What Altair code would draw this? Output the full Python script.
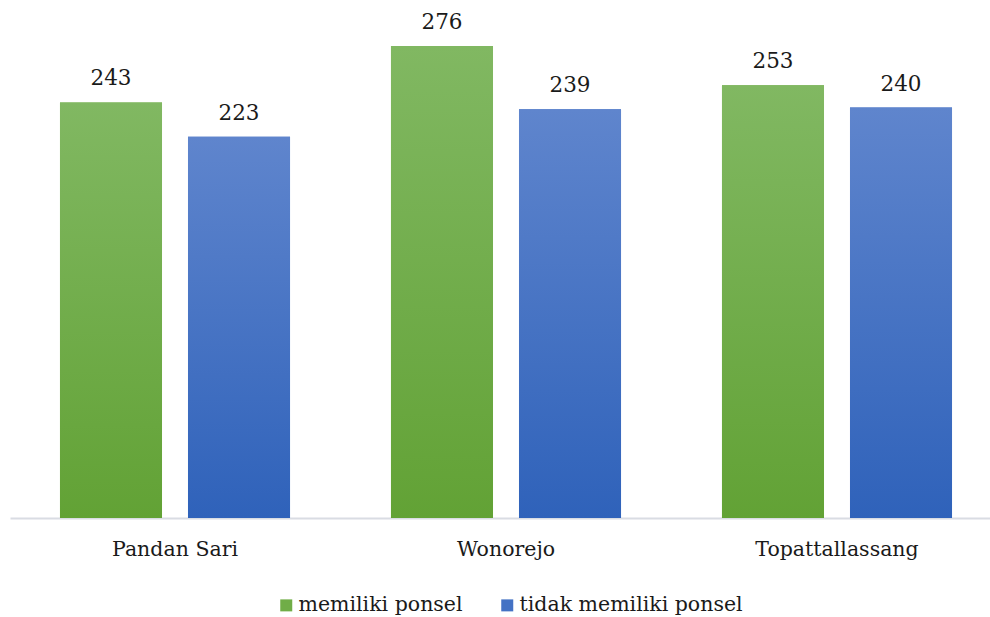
import altair as alt
import pandas as pd

# Survey counts per village
villages = ["Pandan Sari", "Wonorejo", "Topattallassang"]
series = ["memiliki ponsel", "tidak memiliki ponsel"]
owns_phone = [243, 276, 253]
no_phone = [223, 239, 240]

rows = []
for i, v in enumerate(villages):
    rows.append({"desa": v, "status": series[0], "jumlah": owns_phone[i]})
    rows.append({"desa": v, "status": series[1], "jumlah": no_phone[i]})
df = pd.DataFrame(rows)

FONT = "DejaVu Serif"
solid = ["#70ad47", "#4472c4"]

green_grad = alt.Gradient(
    gradient="linear", x1=0, y1=0, x2=0, y2=1,
    stops=[alt.GradientStop(color="#81b862", offset=0),
           alt.GradientStop(color="#62a235", offset=1)],
)
blue_grad = alt.Gradient(
    gradient="linear", x1=0, y1=0, x2=0, y2=1,
    stops=[alt.GradientStop(color="#5f85cd", offset=0),
           alt.GradientStop(color="#2f62ba", offset=1)],
)

x_enc = alt.X(
    "desa:N", sort=villages, title=None,
    scale=alt.Scale(range=[0, 992], paddingInner=0.305, paddingOuter=0.151),
    axis=alt.Axis(labelAngle=0, ticks=False, labelPadding=21, labelFont=FONT,
                  labelFontSize=20.5, labelColor="#1a1a1a", domainColor="#d9dce3",
                  domainWidth=2, grid=False),
)
xo_enc = alt.XOffset("status:N", sort=series,
                     scale=alt.Scale(paddingInner=0.203, paddingOuter=0))
y_enc = alt.Y("jumlah:Q", scale=alt.Scale(domain=[0, 300]), axis=None)

base = alt.Chart(df).encode(x=x_enc, xOffset=xo_enc, y=y_enc)

legend_bars = base.mark_bar().encode(
    color=alt.Color(
        "status:N", sort=series,
        scale=alt.Scale(domain=series, range=solid),
        legend=alt.Legend(
            title=None, orient="none", direction="horizontal",
            legendX=266, legendY=590, symbolType="square", symbolSize=144,
            symbolStrokeWidth=0, labelFont=FONT, labelFontSize=20.5,
            labelColor="#1a1a1a", columnPadding=34, labelOffset=2, padding=0,
            labelLimit=0,
        ),
    )
)

green_bars = base.mark_bar(fill=green_grad).transform_filter(
    alt.datum.status == series[0])
blue_bars = base.mark_bar(fill=blue_grad).transform_filter(
    alt.datum.status == series[1])

labels = base.mark_text(
    baseline="alphabetic", dy=-17, font=FONT, fontSize=21.5, color="#1a1a1a"
).encode(text="jumlah:Q")

chart = (
    alt.layer(legend_bars, green_bars, blue_bars, labels)
    .properties(width=980, height=513,
                view=alt.ViewBackground(stroke="transparent", strokeWidth=0),
                autosize=alt.AutoSizeParams(type="none"),
                padding={"left": 10, "top": 5, "right": 0, "bottom": 99})
    .configure_view(stroke="transparent", strokeWidth=0)
    .configure(background="white")
)

chart.save("out.html", embed_options={"renderer": "svg", "actions": False})
